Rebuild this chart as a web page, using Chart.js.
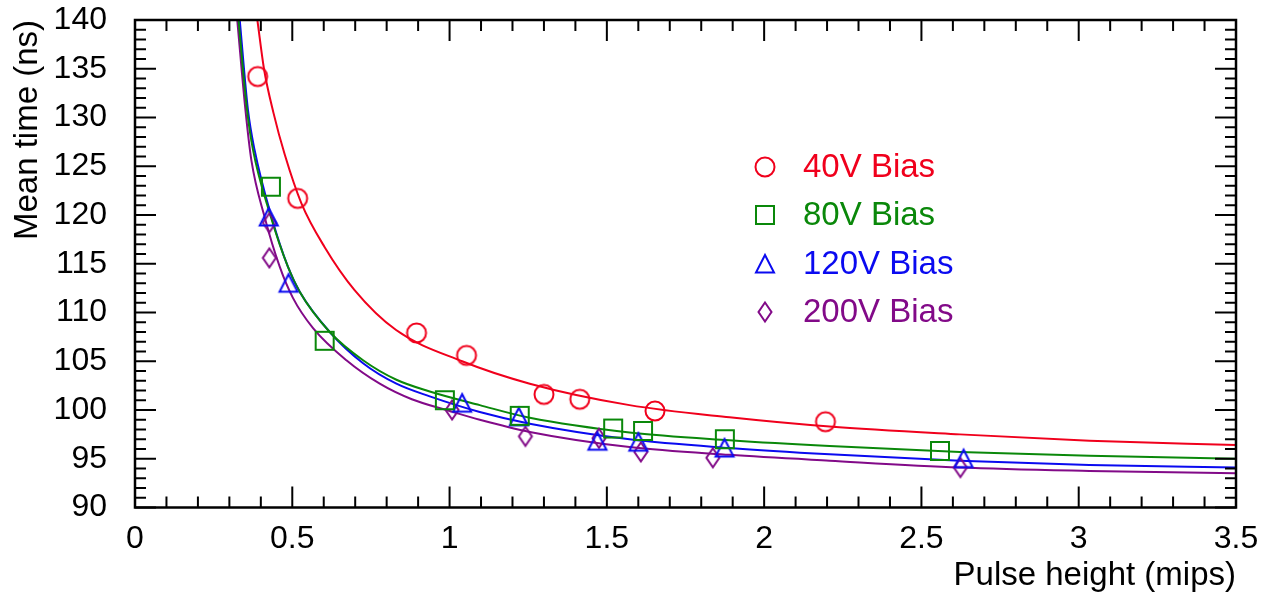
<!DOCTYPE html>
<html>
<head>
<meta charset="utf-8">
<script src="https://cdn.jsdelivr.net/npm/chart.js@4"></script>
<style>
  html, body { margin: 0; padding: 0; background: #fff; }
  #wrap { width: 1264px; height: 600px; }
</style>
</head>
<body>
<div id="wrap"><canvas id="chart" width="1264" height="600"></canvas></div>
<script>
// series labels
const seriesNames = ['40V Bias', '80V Bias', '120V Bias', '200V Bias'];

// measured points [pulse height (mips), mean time (ns)]
const points40 = [[0.39, 134.2], [0.517, 121.7], [0.895, 107.9], [1.054, 105.6], [1.30, 101.6], [1.414, 101.1], [1.653, 99.9], [2.195, 98.8]];
const points80 = [[0.432, 122.9], [0.603, 107.1], [0.985, 101.0], [1.223, 99.4], [1.52, 98.1], [1.615, 97.85], [1.875, 97.0], [2.559, 95.8]];
const points120 = [[0.425, 119.8], [0.488, 113.0], [1.04, 100.7], [1.22, 99.3], [1.47, 96.8], [1.60, 96.7], [1.874, 96.1], [2.634, 95.0]];
const points200 = [[0.427, 119.2], [0.427, 115.6], [1.008, 100.0], [1.241, 97.3], [1.475, 97.1], [1.608, 95.7], [1.837, 95.1], [2.624, 94.1]];

// fit curves
const fit40 = [[0.389, 140], [0.41, 135.0], [0.44, 130.5], [0.476, 126.2], [0.529, 121.2], [0.603, 116.7], [0.698, 112.3], [0.83, 108.2], [1.04, 105.0], [1.255, 102.7], [1.572, 100.5], [1.89, 99.25], [2.208, 98.3], [2.622, 97.5], [3.034, 96.85], [3.5, 96.4]];
const fit80 = [[0.329, 140], [0.356, 130.8], [0.375, 126.7], [0.43, 120.0], [0.486, 114.7], [0.524, 112.1], [0.619, 108.0], [0.725, 105.1], [0.831, 103.1], [0.937, 101.9], [1.096, 100.5], [1.255, 99.2], [1.572, 97.7], [1.89, 96.9], [2.208, 96.3], [2.622, 95.7], [3.034, 95.3], [3.5, 95.0]];
const fit120 = [[0.333, 140], [0.359, 130.8], [0.380, 126.7], [0.434, 119.8], [0.486, 114.7], [0.524, 112.1], [0.619, 108.0], [0.725, 104.8], [0.831, 102.7], [0.937, 101.4], [1.096, 99.8], [1.255, 98.6], [1.572, 97.0], [1.89, 96.1], [2.208, 95.45], [2.622, 94.8], [3.034, 94.35], [3.5, 94.1]];
const fit200 = [[0.325, 140], [0.351, 130.8], [0.370, 125.6], [0.412, 119.8], [0.46, 114.7], [0.502, 111.5], [0.566, 108.4], [0.672, 105.1], [0.778, 102.7], [0.88, 101.1], [1.0, 99.9], [1.096, 99.0], [1.255, 97.75], [1.572, 96.2], [1.89, 95.4], [2.208, 94.8], [2.622, 94.1], [3.034, 93.75], [3.5, 93.5]];

// tick labels
const xTickValues = [0, 0.5, 1, 1.5, 2, 2.5, 3, 3.5];
const yTickValues = [90, 95, 100, 105, 110, 115, 120, 125, 130, 135, 140];

// styles
const colors = ['#f0001c', '#0a880a', '#0a0af0', '#820a88'];
const shapes = ['circle', 'square', 'triangle', 'diamond'];
const FONT = '"Liberation Sans", Arial, Helvetica, sans-serif';

// small canvases used as marker images (ROOT style open markers)
function makeMarker(shape, color) {
  const c = document.createElement('canvas');
  c.width = 26; c.height = 26;
  const g = c.getContext('2d');
  g.strokeStyle = color;
  g.lineWidth = 2;
  g.beginPath();
  if (shape === 'circle') {
    g.arc(13, 13, 9.5, 0, Math.PI * 2);
  } else if (shape === 'square') {
    g.rect(4, 4, 18, 18);
  } else if (shape === 'triangle') {
    g.moveTo(13, 4); g.lineTo(22, 21.5); g.lineTo(4, 21.5); g.closePath();
  } else {
    g.moveTo(13, 3.5); g.lineTo(19.5, 13); g.lineTo(13, 22.5); g.lineTo(6.5, 13); g.closePath();
  }
  g.stroke();
  return c;
}
const markers = shapes.map((s, i) => makeMarker(s, colors[i]));

const toXY = arr => arr.map(p => ({ x: p[0], y: p[1] }));
const pointSets = [points40, points80, points120, points200];
const fitSets = [fit40, fit80, fit120, fit200];

const datasets = [];
fitSets.forEach((f, i) => {
  datasets.push({
    label: seriesNames[i] + ' fit',
    data: toXY(f),
    showLine: true,
    borderColor: colors[i],
    borderWidth: 2,
    pointRadius: 0,
    cubicInterpolationMode: 'monotone',
    order: 2
  });
});
pointSets.forEach((p, i) => {
  datasets.push({
    label: seriesNames[i],
    data: toXY(p),
    showLine: false,
    pointStyle: markers[i],
    pointRadius: 10,
    order: 1
  });
});

// inside ticks on all four sides + frame (ROOT look)
const frameTicks = {
  id: 'frameTicks',
  afterDraw(chart) {
    const { ctx, chartArea: a, scales: { x, y } } = chart;
    ctx.save();
    ctx.strokeStyle = '#000';
    ctx.lineWidth = 2;
    ctx.beginPath();
    for (let i = 0; i <= 35; i++) {
      const px = x.getPixelForValue(i / 10);
      const len = i % 5 === 0 ? 21 : 11;
      ctx.moveTo(px, a.bottom); ctx.lineTo(px, a.bottom - len);
      ctx.moveTo(px, a.top); ctx.lineTo(px, a.top + len);
    }
    for (let v = 90; v <= 140; v++) {
      const py = y.getPixelForValue(v);
      const len = v % 5 === 0 ? 21 : 11;
      ctx.moveTo(a.left, py); ctx.lineTo(a.left + len, py);
      ctx.moveTo(a.right, py); ctx.lineTo(a.right - len, py);
    }
    ctx.stroke();
    ctx.lineWidth = 2.5;
    ctx.strokeRect(a.left, a.top, a.right - a.left, a.bottom - a.top);

    // legend inside the plot
    ctx.font = '33px ' + FONT;
    ctx.textBaseline = 'middle';
    ctx.textAlign = 'left';
    const rows = [167, 215, 264, 312];
    seriesNames.forEach((name, i) => {
      ctx.drawImage(markers[i], 765 - 13, rows[i] - 13);
      ctx.fillStyle = colors[i];
      ctx.fillText(name, 803, rows[i] + 1);
    });
    ctx.restore();
  }
};

new Chart(document.getElementById('chart'), {
  type: 'scatter',
  data: { datasets },
  options: {
    responsive: false,
    animation: false,
    devicePixelRatio: 1,
    layout: { padding: { top: 20, right: 28, left: 0, bottom: 0 } },
    plugins: { legend: { display: false }, tooltip: { enabled: false } },
    scales: {
      x: {
        type: 'linear',
        min: 0, max: 3.5,
        afterBuildTicks: s => { s.ticks = xTickValues.map(v => ({ value: v })); },
        afterFit: s => { s.height = 92.5; s.paddingLeft = 0; s.paddingRight = 0; },
        grid: { display: false, drawTicks: false },
        border: { display: false },
        ticks: { color: '#000', font: { family: FONT, size: 32 }, padding: 12, autoSkip: false, maxRotation: 0, callback: v => String(v) },
        title: { display: true, text: 'Pulse height (mips)', align: 'end', color: '#000', font: { family: FONT, size: 33 }, padding: { top: 0, bottom: 4 } }
      },
      y: {
        type: 'linear',
        min: 90, max: 140,
        afterBuildTicks: s => { s.ticks = yTickValues.map(v => ({ value: v })); },
        afterFit: s => { s.width = 135; s.paddingTop = 0; s.paddingBottom = 0; },
        grid: { display: false, drawTicks: false },
        border: { display: false },
        ticks: { color: '#000', font: { family: FONT, size: 32 }, padding: 28, autoSkip: false, callback: v => String(v) },
        title: { display: true, text: 'Mean time (ns)', align: 'end', color: '#000', font: { family: FONT, size: 33 }, padding: { top: 8, bottom: 0 } }
      }
    }
  },
  plugins: [frameTicks]
});
</script>
</body>
</html>
